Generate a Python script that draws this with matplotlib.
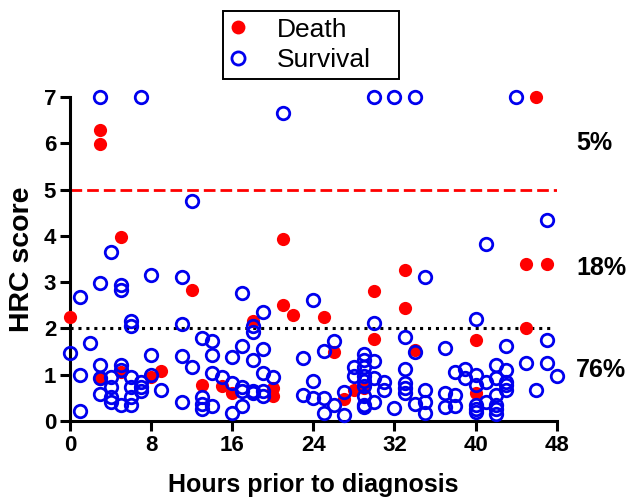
import matplotlib
matplotlib.use("Agg")
import matplotlib.pyplot as plt
from matplotlib.patches import Rectangle

plt.rcParams['font.family'] = ['Liberation Sans', 'DejaVu Sans']

# Death (red, filled)
death_x = [0, 3, 3, 3, 5, 5, 8, 9, 12, 13, 15, 16, 18, 20, 20, 21, 21, 22, 25,
           26, 27, 28, 29, 30, 30, 33, 33, 34, 40, 40, 45, 45, 46, 47]
death_y = [2.25, 6.28, 5.99, 0.9, 3.98, 1.05, 0.95, 1.08, 2.82, 0.78, 0.75, 0.6,
           2.17, 0.72, 0.55, 3.93, 2.5, 2.28, 2.25, 1.5, 0.47, 0.67, 0.72, 2.8,
           1.78, 3.27, 2.45, 1.53, 1.75, 0.6, 3.4, 2.0, 7.0, 3.4]

# Survival (blue, open)
surv_x = [3, 7, 30, 32, 34, 44, 21, 12, 47, 4, 41, 8, 11, 35, 3, 5, 5, 1, 17, 24,
          19, 40, 6, 6, 11, 30, 18, 18, 33, 13, 47, 14, 26, 2, 17, 43, 37, 19, 25,
          34, 0, 29, 8, 11, 14, 16, 23, 18, 29, 30, 45, 47, 3, 5, 42, 12, 28, 29,
          39, 33, 5, 43, 38, 14, 1, 19, 8, 40, 48, 28, 29, 4, 6, 15, 20, 3, 30, 39,
          42, 24, 7, 29, 31, 41, 43, 16, 33, 40, 43, 4, 6, 7, 17, 29, 33, 9, 31,
          35, 46, 43, 7, 17, 18, 19, 27, 3, 18, 33, 37, 23, 38, 42, 29, 19, 4, 6,
          13, 24, 25, 4, 30, 35, 41, 11, 34, 13, 5, 6, 26, 29, 40, 42, 14, 17, 38,
          37, 29, 32, 13, 40, 42, 1, 40, 16, 25, 35, 27, 42]
surv_y = [7, 7, 7, 7, 7, 7, 6.66, 4.75, 4.35, 3.65, 3.83, 3.15, 3.12, 3.12, 2.97,
          2.93, 2.83, 2.68, 2.77, 2.62, 2.36, 2.2, 2.15, 2.05, 2.1, 2.12, 2.05,
          1.93, 1.82, 1.8, 1.75, 1.72, 1.73, 1.68, 1.62, 1.61, 1.58, 1.55, 1.52,
          1.5, 1.47, 1.45, 1.42, 1.4, 1.42, 1.39, 1.37, 1.32, 1.31, 1.3, 1.25,
          1.25, 1.21, 1.2, 1.21, 1.17, 1.17, 1.17, 1.13, 1.12, 1.1, 1.1, 1.05,
          1.04, 0.99, 1.03, 1.0, 1.0, 0.97, 0.97, 0.97, 0.96, 0.96, 0.96, 0.96,
          0.92, 0.92, 0.92, 0.92, 0.87, 0.85, 0.86, 0.85, 0.85, 0.85, 0.81, 0.82,
          0.78, 0.78, 0.74, 0.74, 0.74, 0.74, 0.76, 0.72, 0.68, 0.67, 0.67, 0.67,
          0.67, 0.64, 0.64, 0.64, 0.64, 0.63, 0.58, 0.6, 0.6, 0.6, 0.56, 0.56,
          0.56, 0.55, 0.53, 0.52, 0.52, 0.52, 0.5, 0.49, 0.42, 0.42, 0.42, 0.42,
          0.4, 0.37, 0.36, 0.35, 0.35, 0.35, 0.35, 0.35, 0.35, 0.33, 0.33, 0.33,
          0.31, 0.3, 0.27, 0.25, 0.25, 0.25, 0.22, 0.2, 0.17, 0.17, 0.17, 0.13,
          0.15]

x_ticks = [0, 8, 16, 24, 32, 40, 48]
y_ticks = [0, 1, 2, 3, 4, 5, 6, 7]
zone_labels = ['5%', '18%', '76%']
zone_y = [6.0, 3.3, 1.1]

fig = plt.figure(figsize=(6.28, 5.04), dpi=100)
ax = fig.add_axes([0.1115, 0.1647, 0.775, 0.643])

ax.axhline(5, color='#ff0000', ls=(0, (4.2, 1.8)), lw=2.0)
ax.axhline(2, xmax=0.99, color='black', ls=(0, (1, 1.6)), lw=2.2)

ax.plot(death_x, death_y, 'o', color='#ff0000', ms=9.5, mew=0,
        label='Death', clip_on=False, zorder=3)
ax.plot(surv_x, surv_y, 'o', mfc='none', mec='#0000ee', ms=9, mew=2,
        label='Survival', clip_on=False, zorder=4)

ax.set_xlim(0, 48)
ax.set_ylim(0, 7)
ax.set_xticks(x_ticks)
ax.set_yticks(y_ticks)
for s in ['top', 'right']:
    ax.spines[s].set_visible(False)
for s in ['left', 'bottom']:
    ax.spines[s].set_linewidth(2.2)
ax.tick_params(width=2.2, length=7, labelsize=16, pad=3)
for lab in ax.get_xticklabels() + ax.get_yticklabels():
    lab.set_fontweight('bold')

ax.set_xlabel('Hours prior to diagnosis', fontsize=18, fontweight='bold', labelpad=12)
ax.set_ylabel('HRC score', fontsize=20.5, fontweight='bold', labelpad=6)

for t, yv in zip(zone_labels, zone_y):
    ax.text(1.04, yv, t, transform=ax.get_yaxis_transform(), fontsize=18,
            fontweight='bold', va='center', ha='left')

leg = fig.legend(loc='upper left', bbox_to_anchor=(0.3551, 0.978), fontsize=19,
                 frameon=False, borderaxespad=0, borderpad=0.25,
                 handlelength=0.64, handletextpad=1.15, labelspacing=0.24,
                 markerscale=1.05)
# legend frame (the box is wider than the entries)
fig.patches.append(Rectangle((0.3551, 0.8433), 0.2803, 0.1349,
                             transform=fig.transFigure, fill=False,
                             edgecolor='black', lw=1.4))

fig.savefig('out.png', dpi=100)
